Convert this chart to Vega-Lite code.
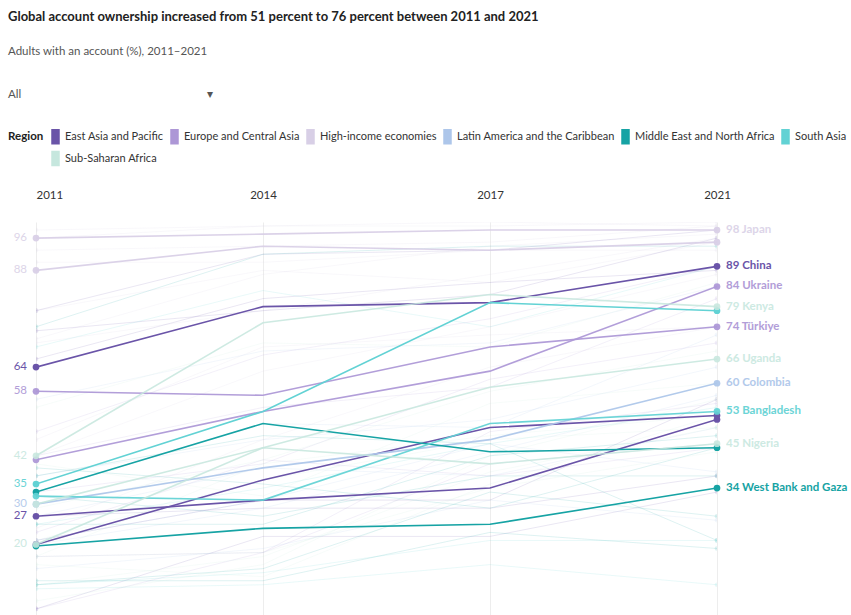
{
  "$schema": "https://vega.github.io/schema/vega-lite/v6.json",
  "autosize": {"type": "none"},
  "width": 681,
  "height": 393,
  "padding": {"left": 36, "top": 222, "right": 134, "bottom": 0},
  "background": "white",
  "title": {
    "text": "Global account ownership increased from 51 percent to 76 percent between 2011 and 2021",
    "subtitle": ["Adults with an account (%), 2011–2021", "All\u00a0\u00a0\u00a0\u00a0\u00a0\u00a0\u00a0\u00a0\u00a0\u00a0\u00a0\u00a0\u00a0\u00a0\u00a0\u00a0\u00a0\u00a0\u00a0\u00a0\u00a0\u00a0\u00a0\u00a0\u00a0\u00a0\u00a0\u00a0\u00a0\u00a0\u00a0\u00a0\u00a0\u00a0\u00a0\u00a0\u00a0\u00a0\u00a0\u00a0\u00a0\u00a0\u00a0\u00a0\u00a0\u00a0\u00a0\u00a0\u00a0\u00a0\u00a0\u00a0\u00a0\u00a0\u00a0\u00a0\u00a0\u00a0\u00a0\u00a0\u00a0\u00a0\u00a0\u25be"],
    "anchor": "start",
    "frame": "group",
    "dx": -28,
    "offset": 31,
    "font": "Lato",
    "fontSize": 13,
    "fontWeight": "bold",
    "color": "#222222",
    "subtitleFont": "Lato",
    "subtitleFontSize": 11.5,
    "subtitleColor": "#555555",
    "subtitlePadding": 22,
    "subtitleLineHeight": 43
  },
  "datasets": {
    "countries": [
      {"country": "China", "region": "East Asia and Pacific", "tier": "hi"},
      {"country": "Philippines", "region": "East Asia and Pacific", "tier": "hi"},
      {"country": "Indonesia", "region": "East Asia and Pacific", "tier": "hi"},
      {"country": "Ukraine", "region": "Europe and Central Asia", "tier": "mid"},
      {"country": "Türkiye", "region": "Europe and Central Asia", "tier": "mid"},
      {"country": "Japan", "region": "High-income economies", "tier": "mid"},
      {"country": "United States", "region": "High-income economies", "tier": "mid"},
      {"country": "Colombia", "region": "Latin America and the Caribbean", "tier": "mid"},
      {"country": "Algeria", "region": "Middle East and North Africa", "tier": "hi"},
      {"country": "West Bank and Gaza", "region": "Middle East and North Africa", "tier": "hi"},
      {"country": "India", "region": "South Asia", "tier": "hi"},
      {"country": "Bangladesh", "region": "South Asia", "tier": "mid"},
      {"country": "Kenya", "region": "Sub-Saharan Africa", "tier": "lo"},
      {"country": "Uganda", "region": "Sub-Saharan Africa", "tier": "lo"},
      {"country": "Nigeria", "region": "Sub-Saharan Africa", "tier": "lo"},
      {"country": "Germany", "region": "High-income economies", "tier": "bg"},
      {"country": "Canada", "region": "High-income economies", "tier": "bg"},
      {"country": "Korea", "region": "High-income economies", "tier": "bg"},
      {"country": "Italy", "region": "High-income economies", "tier": "bg"},
      {"country": "Israel", "region": "High-income economies", "tier": "bg"},
      {"country": "Saudi Arabia", "region": "High-income economies", "tier": "bg"},
      {"country": "Chile", "region": "High-income economies", "tier": "bg"},
      {"country": "Uruguay", "region": "High-income economies", "tier": "bg"},
      {"country": "Poland", "region": "High-income economies", "tier": "bg"},
      {"country": "Greece", "region": "High-income economies", "tier": "bg"},
      {"country": "Thailand", "region": "East Asia and Pacific", "tier": "bg"},
      {"country": "Malaysia", "region": "East Asia and Pacific", "tier": "bg"},
      {"country": "Vietnam", "region": "East Asia and Pacific", "tier": "bg"},
      {"country": "Cambodia", "region": "East Asia and Pacific", "tier": "bg"},
      {"country": "Lao PDR", "region": "East Asia and Pacific", "tier": "bg"},
      {"country": "Mongolia", "region": "East Asia and Pacific", "tier": "bg"},
      {"country": "Russia", "region": "Europe and Central Asia", "tier": "bg"},
      {"country": "Kazakhstan", "region": "Europe and Central Asia", "tier": "bg"},
      {"country": "Uzbekistan", "region": "Europe and Central Asia", "tier": "bg"},
      {"country": "Kyrgyz Republic", "region": "Europe and Central Asia", "tier": "bg"},
      {"country": "Georgia", "region": "Europe and Central Asia", "tier": "bg"},
      {"country": "Armenia", "region": "Europe and Central Asia", "tier": "bg"},
      {"country": "Brazil", "region": "Latin America and the Caribbean", "tier": "bg"},
      {"country": "Mexico", "region": "Latin America and the Caribbean", "tier": "bg"},
      {"country": "Peru", "region": "Latin America and the Caribbean", "tier": "bg"},
      {"country": "Argentina", "region": "Latin America and the Caribbean", "tier": "bg"},
      {"country": "Nicaragua", "region": "Latin America and the Caribbean", "tier": "bg"},
      {"country": "Honduras", "region": "Latin America and the Caribbean", "tier": "bg"},
      {"country": "Ecuador", "region": "Latin America and the Caribbean", "tier": "bg"},
      {"country": "Egypt", "region": "Middle East and North Africa", "tier": "bg"},
      {"country": "Morocco", "region": "Middle East and North Africa", "tier": "bg"},
      {"country": "Tunisia", "region": "Middle East and North Africa", "tier": "bg"},
      {"country": "Jordan", "region": "Middle East and North Africa", "tier": "bg"},
      {"country": "Lebanon", "region": "Middle East and North Africa", "tier": "bg"},
      {"country": "Iraq", "region": "Middle East and North Africa", "tier": "bg"},
      {"country": "Iran", "region": "Middle East and North Africa", "tier": "bg"},
      {"country": "Pakistan", "region": "South Asia", "tier": "bg"},
      {"country": "Sri Lanka", "region": "South Asia", "tier": "bg"},
      {"country": "Nepal", "region": "South Asia", "tier": "bg"},
      {"country": "Afghanistan", "region": "South Asia", "tier": "bg"},
      {"country": "South Africa", "region": "Sub-Saharan Africa", "tier": "bg"},
      {"country": "Ghana", "region": "Sub-Saharan Africa", "tier": "bg"},
      {"country": "Tanzania", "region": "Sub-Saharan Africa", "tier": "bg"},
      {"country": "Senegal", "region": "Sub-Saharan Africa", "tier": "bg"},
      {"country": "Zambia", "region": "Sub-Saharan Africa", "tier": "bg"},
      {"country": "Zimbabwe", "region": "Sub-Saharan Africa", "tier": "bg"},
      {"country": "Cameroon", "region": "Sub-Saharan Africa", "tier": "bg"},
      {"country": "Benin", "region": "Sub-Saharan Africa", "tier": "bg"},
      {"country": "Malawi", "region": "Sub-Saharan Africa", "tier": "bg"}
    ],
    "values": [
      {"country": "China", "year": 2011, "value": 64}, {"country": "China", "year": 2014, "value": 79}, {"country": "China", "year": 2017, "value": 80}, {"country": "China", "year": 2021, "value": 89},
      {"country": "Philippines", "year": 2011, "value": 27}, {"country": "Philippines", "year": 2014, "value": 31}, {"country": "Philippines", "year": 2017, "value": 34}, {"country": "Philippines", "year": 2021, "value": 51},
      {"country": "Indonesia", "year": 2011, "value": 20}, {"country": "Indonesia", "year": 2014, "value": 36}, {"country": "Indonesia", "year": 2017, "value": 49}, {"country": "Indonesia", "year": 2021, "value": 52},
      {"country": "Ukraine", "year": 2011, "value": 41}, {"country": "Ukraine", "year": 2014, "value": 53}, {"country": "Ukraine", "year": 2017, "value": 63}, {"country": "Ukraine", "year": 2021, "value": 84},
      {"country": "Türkiye", "year": 2011, "value": 58}, {"country": "Türkiye", "year": 2014, "value": 57}, {"country": "Türkiye", "year": 2017, "value": 69}, {"country": "Türkiye", "year": 2021, "value": 74},
      {"country": "Japan", "year": 2011, "value": 96}, {"country": "Japan", "year": 2014, "value": 97}, {"country": "Japan", "year": 2017, "value": 98}, {"country": "Japan", "year": 2021, "value": 98},
      {"country": "United States", "year": 2011, "value": 88}, {"country": "United States", "year": 2014, "value": 94}, {"country": "United States", "year": 2017, "value": 93}, {"country": "United States", "year": 2021, "value": 95},
      {"country": "Colombia", "year": 2011, "value": 30}, {"country": "Colombia", "year": 2014, "value": 39}, {"country": "Colombia", "year": 2017, "value": 46}, {"country": "Colombia", "year": 2021, "value": 60},
      {"country": "Algeria", "year": 2011, "value": 33}, {"country": "Algeria", "year": 2014, "value": 50}, {"country": "Algeria", "year": 2017, "value": 43}, {"country": "Algeria", "year": 2021, "value": 44},
      {"country": "West Bank and Gaza", "year": 2011, "value": 19.6}, {"country": "West Bank and Gaza", "year": 2014, "value": 24}, {"country": "West Bank and Gaza", "year": 2017, "value": 25}, {"country": "West Bank and Gaza", "year": 2021, "value": 34},
      {"country": "India", "year": 2011, "value": 35}, {"country": "India", "year": 2014, "value": 53}, {"country": "India", "year": 2017, "value": 80}, {"country": "India", "year": 2021, "value": 78},
      {"country": "Bangladesh", "year": 2011, "value": 32}, {"country": "Bangladesh", "year": 2014, "value": 31}, {"country": "Bangladesh", "year": 2017, "value": 50}, {"country": "Bangladesh", "year": 2021, "value": 53},
      {"country": "Kenya", "year": 2011, "value": 42}, {"country": "Kenya", "year": 2014, "value": 75}, {"country": "Kenya", "year": 2017, "value": 82}, {"country": "Kenya", "year": 2021, "value": 79},
      {"country": "Uganda", "year": 2011, "value": 20}, {"country": "Uganda", "year": 2014, "value": 44}, {"country": "Uganda", "year": 2017, "value": 59}, {"country": "Uganda", "year": 2021, "value": 66},
      {"country": "Nigeria", "year": 2011, "value": 30}, {"country": "Nigeria", "year": 2014, "value": 44}, {"country": "Nigeria", "year": 2017, "value": 40}, {"country": "Nigeria", "year": 2021, "value": 45},
      {"country": "Germany", "year": 2011, "value": 98}, {"country": "Germany", "year": 2014, "value": 99}, {"country": "Germany", "year": 2017, "value": 99}, {"country": "Germany", "year": 2021, "value": 100},
      {"country": "Canada", "year": 2011, "value": 96}, {"country": "Canada", "year": 2014, "value": 99}, {"country": "Canada", "year": 2017, "value": 100}, {"country": "Canada", "year": 2021, "value": 99},
      {"country": "Korea", "year": 2011, "value": 93}, {"country": "Korea", "year": 2014, "value": 94}, {"country": "Korea", "year": 2017, "value": 95}, {"country": "Korea", "year": 2021, "value": 99},
      {"country": "Italy", "year": 2011, "value": 71}, {"country": "Italy", "year": 2014, "value": 87}, {"country": "Italy", "year": 2017, "value": 94}, {"country": "Italy", "year": 2021, "value": 97},
      {"country": "Israel", "year": 2011, "value": 90}, {"country": "Israel", "year": 2014, "value": 90}, {"country": "Israel", "year": 2017, "value": 93}, {"country": "Israel", "year": 2021, "value": 93},
      {"country": "Saudi Arabia", "year": 2011, "value": 46}, {"country": "Saudi Arabia", "year": 2014, "value": 69}, {"country": "Saudi Arabia", "year": 2017, "value": 72}, {"country": "Saudi Arabia", "year": 2021, "value": 74},
      {"country": "Chile", "year": 2011, "value": 42}, {"country": "Chile", "year": 2014, "value": 63}, {"country": "Chile", "year": 2017, "value": 74}, {"country": "Chile", "year": 2021, "value": 87},
      {"country": "Uruguay", "year": 2011, "value": 24}, {"country": "Uruguay", "year": 2014, "value": 46}, {"country": "Uruguay", "year": 2017, "value": 64}, {"country": "Uruguay", "year": 2021, "value": 74},
      {"country": "Poland", "year": 2011, "value": 70}, {"country": "Poland", "year": 2014, "value": 78}, {"country": "Poland", "year": 2017, "value": 87}, {"country": "Poland", "year": 2021, "value": 96},
      {"country": "Greece", "year": 2011, "value": 78}, {"country": "Greece", "year": 2014, "value": 88}, {"country": "Greece", "year": 2017, "value": 85}, {"country": "Greece", "year": 2021, "value": 95},
      {"country": "Thailand", "year": 2011, "value": 73}, {"country": "Thailand", "year": 2014, "value": 78}, {"country": "Thailand", "year": 2017, "value": 82}, {"country": "Thailand", "year": 2021, "value": 96},
      {"country": "Malaysia", "year": 2011, "value": 66}, {"country": "Malaysia", "year": 2014, "value": 81}, {"country": "Malaysia", "year": 2017, "value": 85}, {"country": "Malaysia", "year": 2021, "value": 88},
      {"country": "Vietnam", "year": 2011, "value": 21}, {"country": "Vietnam", "year": 2014, "value": 31}, {"country": "Vietnam", "year": 2017, "value": 31}, {"country": "Vietnam", "year": 2021, "value": 56},
      {"country": "Cambodia", "year": 2011, "value": 4}, {"country": "Cambodia", "year": 2014, "value": 22}, {"country": "Cambodia", "year": 2017, "value": 22}, {"country": "Cambodia", "year": 2021, "value": 33},
      {"country": "Lao PDR", "year": 2011, "value": 27}, {"country": "Lao PDR", "year": 2014, "value": 29}, {"country": "Lao PDR", "year": 2017, "value": 29}, {"country": "Lao PDR", "year": 2021, "value": 37},
      {"country": "Mongolia", "year": 2011, "value": 78}, {"country": "Mongolia", "year": 2014, "value": 92}, {"country": "Mongolia", "year": 2017, "value": 93}, {"country": "Mongolia", "year": 2021, "value": 98},
      {"country": "Russia", "year": 2011, "value": 48}, {"country": "Russia", "year": 2014, "value": 67}, {"country": "Russia", "year": 2017, "value": 76}, {"country": "Russia", "year": 2021, "value": 89},
      {"country": "Kazakhstan", "year": 2011, "value": 42}, {"country": "Kazakhstan", "year": 2014, "value": 54}, {"country": "Kazakhstan", "year": 2017, "value": 59}, {"country": "Kazakhstan", "year": 2021, "value": 81},
      {"country": "Uzbekistan", "year": 2011, "value": 23}, {"country": "Uzbekistan", "year": 2014, "value": 41}, {"country": "Uzbekistan", "year": 2017, "value": 37}, {"country": "Uzbekistan", "year": 2021, "value": 44},
      {"country": "Kyrgyz Republic", "year": 2011, "value": 4}, {"country": "Kyrgyz Republic", "year": 2014, "value": 18}, {"country": "Kyrgyz Republic", "year": 2017, "value": 40}, {"country": "Kyrgyz Republic", "year": 2021, "value": 45},
      {"country": "Georgia", "year": 2011, "value": 33}, {"country": "Georgia", "year": 2014, "value": 40}, {"country": "Georgia", "year": 2017, "value": 61}, {"country": "Georgia", "year": 2021, "value": 70},
      {"country": "Armenia", "year": 2011, "value": 17}, {"country": "Armenia", "year": 2014, "value": 18}, {"country": "Armenia", "year": 2017, "value": 48}, {"country": "Armenia", "year": 2021, "value": 55},
      {"country": "Brazil", "year": 2011, "value": 56}, {"country": "Brazil", "year": 2014, "value": 68}, {"country": "Brazil", "year": 2017, "value": 70}, {"country": "Brazil", "year": 2021, "value": 84},
      {"country": "Mexico", "year": 2011, "value": 27}, {"country": "Mexico", "year": 2014, "value": 39}, {"country": "Mexico", "year": 2017, "value": 37}, {"country": "Mexico", "year": 2021, "value": 49},
      {"country": "Peru", "year": 2011, "value": 20}, {"country": "Peru", "year": 2014, "value": 29}, {"country": "Peru", "year": 2017, "value": 43}, {"country": "Peru", "year": 2021, "value": 57},
      {"country": "Argentina", "year": 2011, "value": 33}, {"country": "Argentina", "year": 2014, "value": 50}, {"country": "Argentina", "year": 2017, "value": 49}, {"country": "Argentina", "year": 2021, "value": 72},
      {"country": "Nicaragua", "year": 2011, "value": 14}, {"country": "Nicaragua", "year": 2014, "value": 19}, {"country": "Nicaragua", "year": 2017, "value": 31}, {"country": "Nicaragua", "year": 2021, "value": 26},
      {"country": "Honduras", "year": 2011, "value": 21}, {"country": "Honduras", "year": 2014, "value": 31}, {"country": "Honduras", "year": 2017, "value": 45}, {"country": "Honduras", "year": 2021, "value": 38},
      {"country": "Ecuador", "year": 2011, "value": 37}, {"country": "Ecuador", "year": 2014, "value": 46}, {"country": "Ecuador", "year": 2017, "value": 51}, {"country": "Ecuador", "year": 2021, "value": 64},
      {"country": "Egypt", "year": 2011, "value": 10}, {"country": "Egypt", "year": 2014, "value": 14}, {"country": "Egypt", "year": 2017, "value": 33}, {"country": "Egypt", "year": 2021, "value": 27},
      {"country": "Morocco", "year": 2011, "value": 39}, {"country": "Morocco", "year": 2014, "value": 35}, {"country": "Morocco", "year": 2017, "value": 29}, {"country": "Morocco", "year": 2021, "value": 44},
      {"country": "Tunisia", "year": 2011, "value": 32}, {"country": "Tunisia", "year": 2014, "value": 27}, {"country": "Tunisia", "year": 2017, "value": 37}, {"country": "Tunisia", "year": 2021, "value": 37},
      {"country": "Jordan", "year": 2011, "value": 25}, {"country": "Jordan", "year": 2014, "value": 25}, {"country": "Jordan", "year": 2017, "value": 42}, {"country": "Jordan", "year": 2021, "value": 47},
      {"country": "Lebanon", "year": 2011, "value": 37}, {"country": "Lebanon", "year": 2014, "value": 47}, {"country": "Lebanon", "year": 2017, "value": 45}, {"country": "Lebanon", "year": 2021, "value": 21},
      {"country": "Iraq", "year": 2011, "value": 11}, {"country": "Iraq", "year": 2014, "value": 11}, {"country": "Iraq", "year": 2017, "value": 23}, {"country": "Iraq", "year": 2021, "value": 19},
      {"country": "Iran", "year": 2011, "value": 74}, {"country": "Iran", "year": 2014, "value": 92}, {"country": "Iran", "year": 2017, "value": 94}, {"country": "Iran", "year": 2021, "value": 94},
      {"country": "Pakistan", "year": 2011, "value": 10}, {"country": "Pakistan", "year": 2014, "value": 13}, {"country": "Pakistan", "year": 2017, "value": 21}, {"country": "Pakistan", "year": 2021, "value": 21},
      {"country": "Sri Lanka", "year": 2011, "value": 69}, {"country": "Sri Lanka", "year": 2014, "value": 83}, {"country": "Sri Lanka", "year": 2017, "value": 74}, {"country": "Sri Lanka", "year": 2021, "value": 89},
      {"country": "Nepal", "year": 2011, "value": 25}, {"country": "Nepal", "year": 2014, "value": 34}, {"country": "Nepal", "year": 2017, "value": 45}, {"country": "Nepal", "year": 2021, "value": 54},
      {"country": "Afghanistan", "year": 2011, "value": 9}, {"country": "Afghanistan", "year": 2014, "value": 10}, {"country": "Afghanistan", "year": 2017, "value": 15}, {"country": "Afghanistan", "year": 2021, "value": 10},
      {"country": "South Africa", "year": 2011, "value": 54}, {"country": "South Africa", "year": 2014, "value": 70}, {"country": "South Africa", "year": 2017, "value": 69}, {"country": "South Africa", "year": 2021, "value": 85},
      {"country": "Ghana", "year": 2011, "value": 29}, {"country": "Ghana", "year": 2014, "value": 41}, {"country": "Ghana", "year": 2017, "value": 58}, {"country": "Ghana", "year": 2021, "value": 68},
      {"country": "Tanzania", "year": 2011, "value": 17}, {"country": "Tanzania", "year": 2014, "value": 40}, {"country": "Tanzania", "year": 2017, "value": 47}, {"country": "Tanzania", "year": 2021, "value": 52},
      {"country": "Senegal", "year": 2011, "value": 6}, {"country": "Senegal", "year": 2014, "value": 15}, {"country": "Senegal", "year": 2017, "value": 42}, {"country": "Senegal", "year": 2021, "value": 56},
      {"country": "Zambia", "year": 2011, "value": 21}, {"country": "Zambia", "year": 2014, "value": 36}, {"country": "Zambia", "year": 2017, "value": 46}, {"country": "Zambia", "year": 2021, "value": 49},
      {"country": "Zimbabwe", "year": 2011, "value": 40}, {"country": "Zimbabwe", "year": 2014, "value": 32}, {"country": "Zimbabwe", "year": 2017, "value": 55}, {"country": "Zimbabwe", "year": 2021, "value": 60},
      {"country": "Cameroon", "year": 2011, "value": 15}, {"country": "Cameroon", "year": 2014, "value": 12}, {"country": "Cameroon", "year": 2017, "value": 35}, {"country": "Cameroon", "year": 2021, "value": 52},
      {"country": "Benin", "year": 2011, "value": 10}, {"country": "Benin", "year": 2014, "value": 17}, {"country": "Benin", "year": 2017, "value": 38}, {"country": "Benin", "year": 2021, "value": 49},
      {"country": "Malawi", "year": 2011, "value": 17}, {"country": "Malawi", "year": 2014, "value": 18}, {"country": "Malawi", "year": 2017, "value": 34}, {"country": "Malawi", "year": 2021, "value": 43}
    ],
    "labels": [
      {"side": "right", "year": 2021, "value": 98, "text": "98 Japan", "region": "High-income economies", "tier": "lo"},
      {"side": "right", "year": 2021, "value": 89, "text": "89 China", "region": "East Asia and Pacific", "tier": "hi"},
      {"side": "right", "year": 2021, "value": 84, "text": "84 Ukraine", "region": "Europe and Central Asia", "tier": "mid"},
      {"side": "right", "year": 2021, "value": 79, "text": "79 Kenya", "region": "Sub-Saharan Africa", "tier": "lo"},
      {"side": "right", "year": 2021, "value": 74, "text": "74 Türkiye", "region": "Europe and Central Asia", "tier": "mid"},
      {"side": "right", "year": 2021, "value": 66, "text": "66 Uganda", "region": "Sub-Saharan Africa", "tier": "lo"},
      {"side": "right", "year": 2021, "value": 60, "text": "60 Colombia", "region": "Latin America and the Caribbean", "tier": "mid"},
      {"side": "right", "year": 2021, "value": 53, "text": "53 Bangladesh", "region": "South Asia", "tier": "mid"},
      {"side": "right", "year": 2021, "value": 45, "text": "45 Nigeria", "region": "Sub-Saharan Africa", "tier": "lo"},
      {"side": "right", "year": 2021, "value": 34, "text": "34 West Bank and Gaza", "region": "Middle East and North Africa", "tier": "hi"},
      {"side": "left", "year": 2011, "value": 96, "text": "96", "region": "High-income economies", "tier": "lo"},
      {"side": "left", "year": 2011, "value": 88, "text": "88", "region": "High-income economies", "tier": "lo"},
      {"side": "left", "year": 2011, "value": 64, "text": "64", "region": "East Asia and Pacific", "tier": "hi"},
      {"side": "left", "year": 2011, "value": 58, "text": "58", "region": "Europe and Central Asia", "tier": "mid"},
      {"side": "left", "year": 2011, "value": 42, "text": "42", "region": "Sub-Saharan Africa", "tier": "lo"},
      {"side": "left", "year": 2011, "value": 35, "text": "35", "region": "South Asia", "tier": "mid"},
      {"side": "left", "year": 2011, "value": 30, "text": "30", "region": "Latin America and the Caribbean", "tier": "lo"},
      {"side": "left", "year": 2011, "value": 27, "text": "27", "region": "East Asia and Pacific", "tier": "hi"},
      {"side": "left", "year": 2011, "value": 20, "text": "20", "region": "Sub-Saharan Africa", "tier": "lo"}
    ]
  },
  "encoding": {
    "x": {
      "field": "year", "type": "ordinal",
      "scale": {"type": "point", "padding": 0},
      "axis": {
        "orient": "top", "title": null, "labelAngle": 0, "ticks": false, "domain": false,
        "grid": true, "gridColor": "#ededed", "gridWidth": 1,
        "labelFont": "Lato", "labelFontSize": 11.5, "labelColor": "#333333",
        "labelPadding": 22,
        "labelAlign": {"condition": {"test": "datum.value == 2011", "value": "left"}, "value": "center"}
      }
    },
    "y": {
      "field": "value", "type": "quantitative",
      "scale": {"domain": [2.5, 100], "nice": false, "zero": false},
      "axis": null
    },
    "color": {
      "field": "region", "type": "nominal",
      "scale": {
        "domain": ["East Asia and Pacific", "Europe and Central Asia", "High-income economies", "Latin America and the Caribbean", "Middle East and North Africa", "South Asia", "Sub-Saharan Africa"],
        "range": ["#6a54a8", "#ad97d6", "#d8cfe6", "#adc6ea", "#16a3a4", "#62d2d4", "#c6e7de"]
      },
      "legend": {
        "orient": "none", "legendX": -28, "legendY": -91,
        "title": "Region", "titleOrient": "left", "titleFont": "Lato", "titleFontSize": 11.5, "titleFontWeight": "bold", "titleColor": "#222222", "titlePadding": 6,
        "titleBaseline": "top", "titleAnchor": "start",
        "direction": "horizontal", "columns": 6,
        "labelFont": "Lato", "labelFontSize": 11, "labelColor": "#333333", "labelOffset": 4,
        "symbolType": "M-1,-2H1V2H-1Z", "symbolSize": 49,
        "columnPadding": 4, "rowPadding": 1,
        "labelLimit": 300,
        "encode": {"symbols": {"update": {"fill": {"scale": "color", "field": "value"}, "stroke": {"value": "transparent"}, "opacity": {"value": 1}, "fillOpacity": {"value": 1}}}}
      }
    },
    "opacity": {
      "field": "tier", "type": "nominal",
      "scale": {"domain": ["hi", "mid", "lo", "bg"], "range": [1, 0.8, 0.45, 0.11]},
      "legend": null
    }
  },
  "layer": [
    {
      "data": {"name": "values"},
      "transform": [
        {"lookup": "country", "from": {"data": {"name": "countries"}, "key": "country", "fields": ["region", "tier"]}},
        {"filter": "datum.tier == 'bg'"}
      ],
      "mark": {"type": "line", "strokeWidth": 1, "clip": true},
      "encoding": {"detail": {"field": "country"}, "opacity": {"value": 0.14}}
    },
    {
      "data": {"name": "values"},
      "transform": [
        {"lookup": "country", "from": {"data": {"name": "countries"}, "key": "country", "fields": ["region", "tier"]}},
        {"filter": "datum.tier == 'bg' && (datum.year == 2011 || datum.year == 2021)"}
      ],
      "mark": {"type": "point", "filled": true, "size": 22, "clip": true},
      "encoding": {"detail": {"field": "country"}, "opacity": {"value": 0.14}}
    },
    {
      "data": {"name": "values"},
      "transform": [
        {"lookup": "country", "from": {"data": {"name": "countries"}, "key": "country", "fields": ["region", "tier"]}},
        {"filter": "datum.tier != 'bg'"}
      ],
      "mark": {"type": "line", "strokeWidth": 1.6, "clip": true},
      "encoding": {"detail": {"field": "country"}}
    },
    {
      "data": {"name": "values"},
      "transform": [
        {"lookup": "country", "from": {"data": {"name": "countries"}, "key": "country", "fields": ["region", "tier"]}},
        {"filter": "datum.tier != 'bg' && (datum.year == 2011 || datum.year == 2021)"}
      ],
      "mark": {"type": "point", "filled": true, "size": 45},
      "encoding": {"detail": {"field": "country"}}
    },
    {
      "data": {"name": "labels"},
      "transform": [{"filter": "datum.side == 'left'"}],
      "mark": {"type": "text", "align": "right", "baseline": "middle", "dx": -9, "font": "Lato", "fontSize": 11.5},
      "encoding": {"text": {"field": "text"}}
    },
    {
      "data": {"name": "labels"},
      "transform": [{"filter": "datum.side == 'right'"}],
      "mark": {"type": "text", "align": "left", "baseline": "middle", "dx": 9, "font": "Lato", "fontSize": 11.5, "fontWeight": "bold"},
      "encoding": {"text": {"field": "text"}}
    }
  ],
  "config": {
    "view": {"stroke": null},
    "font": "Lato"
  }
}
